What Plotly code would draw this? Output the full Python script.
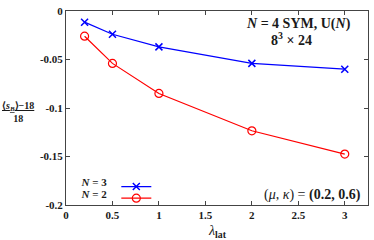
import plotly.graph_objects as go

lam = [0.2, 0.5, 1.0, 2.0, 3.0]
n3_vals = [-0.0115, -0.024, -0.037, -0.054, -0.060]
n2_vals = [-0.026, -0.054, -0.085, -0.1235, -0.1475]
xticks = [0, 0.5, 1, 1.5, 2, 2.5, 3]
xtick_text = ["0", "0.5", "1", "1.5", "2", "2.5", "3"]
yticks = [0, -0.05, -0.1, -0.15, -0.2]
ytick_text = ["0", "-0.05", "-0.1", "-0.15", "-0.2"]

SERIF = "Liberation Serif"
INK = "#1a1a1a"

fig = go.Figure()
fig.add_trace(go.Scatter(
    x=lam, y=n3_vals, mode="lines+markers", name="", legend="legend",
    line=dict(color="#0000ff", width=1.2),
    marker=dict(symbol="x-thin", size=7, line=dict(color="#0000ff", width=1.5)),
))
fig.add_trace(go.Scatter(
    x=lam, y=n2_vals, mode="lines+markers", name="", legend="legend2",
    line=dict(color="#ff0000", width=1.2),
    marker=dict(symbol="circle-open", size=8, color="#ff0000", line=dict(width=1.2)),
))

axis_common = dict(
    showgrid=False, zeroline=False, showline=True, linecolor="#444", linewidth=1,
    mirror="ticks", ticks="inside", ticklen=4, tickcolor="#444",
    ticklabeloverflow="allow",
    tickfont=dict(family=SERIF, size=11, color=INK, weight="bold"),
)
fig.update_xaxes(range=[0, 3.25], tickvals=xticks, ticktext=xtick_text, **axis_common)
fig.update_yaxes(range=[-0.2, 0], tickvals=yticks, ticktext=ytick_text, **axis_common)

leg_common = dict(xanchor="left", yanchor="middle", bgcolor="rgba(0,0,0,0)",
                  font=dict(family=SERIF, size=11, color=INK), itemwidth=30,
                  borderwidth=0)
fig.update_layout(
    width=374, height=240,
    margin=dict(l=66, r=5, t=5, b=35),
    plot_bgcolor="white", paper_bgcolor="white",
    showlegend=True,
    legend=dict(x=0.045, y=0.095,
                title=dict(text="<b><i>N</i> = 3</b>", side="left",
                           font=dict(family=SERIF, size=11, color=INK)),
                **leg_common),
    legend2=dict(x=0.045, y=0.035,
                 title=dict(text="<b><i>N</i> = 2</b>", side="left",
                            font=dict(family=SERIF, size=11, color=INK)),
                 **leg_common),
    font=dict(family=SERIF, color=INK),
)

fig.add_annotation(text="<b><i>N</i> = 4 SYM, U(<i>N</i>)</b>", xref="paper", yref="paper",
                   x=0.77, y=0.935, xanchor="center", yanchor="middle", showarrow=False,
                   font=dict(family=SERIF, size=14, color=INK))
fig.add_annotation(text="<b>8<sup>3</sup> × 24</b>", xref="paper", yref="paper",
                   x=0.746, y=0.855, xanchor="center", yanchor="middle", showarrow=False,
                   font=dict(family=SERIF, size=14, color=INK))
fig.add_annotation(text="(<i>μ</i>, <i>κ</i>) = <b>(0.2, 0.6)</b>", xref="paper", yref="paper",
                   x=0.985, y=0.05, xanchor="right", yanchor="middle", showarrow=False,
                   font=dict(family=SERIF, size=14, color=INK))
fig.add_annotation(text="<i>λ</i><sub><b>lat</b></sub>", xref="paper", yref="paper",
                   x=0.5, y=-0.085, xanchor="center", yanchor="top", showarrow=False,
                   font=dict(family=SERIF, size=14, color=INK))
fig.add_annotation(text="<b><u>⟨<i>s<sub>B</sub></i>⟩−18</u></b><br><b>18</b>", xref="paper", yref="paper",
                   x=-0.158, y=0.48, xanchor="center", yanchor="middle", showarrow=False,
                   font=dict(family=SERIF, size=10, color=INK))

fig.write_html("out.html", config={"displayModeBar": False},
               post_script="document.body.style.margin='0';")
